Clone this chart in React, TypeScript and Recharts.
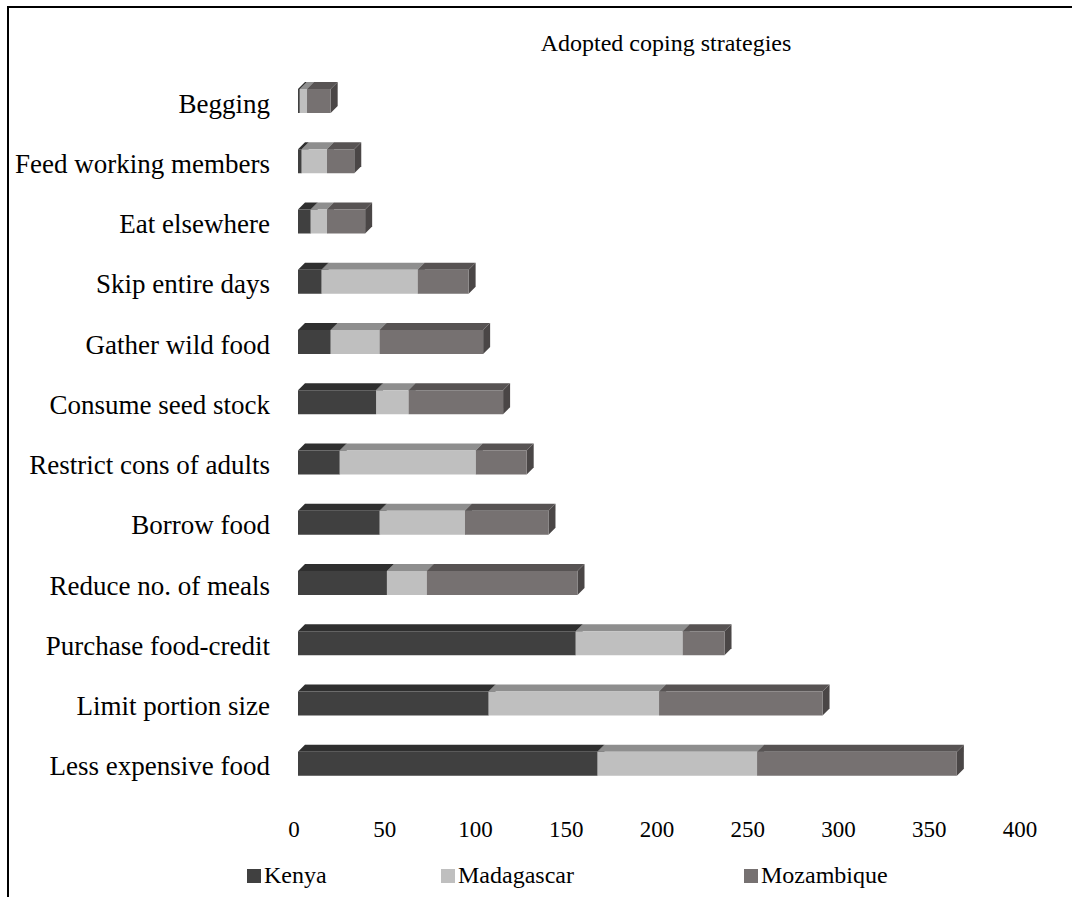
import React from "react";
import { BarChart, Bar, XAxis, YAxis, Legend } from "recharts";

const categories = [
  "Begging",
  "Feed working members",
  "Eat elsewhere",
  "Skip entire days",
  "Gather wild food",
  "Consume seed stock",
  "Restrict cons of adults",
  "Borrow food",
  "Reduce no. of meals",
  "Purchase food-credit",
  "Limit portion size",
  "Less expensive food",
];

const kenya = [1, 2, 7, 13, 18, 43, 23, 45, 49, 153, 105, 165];
const madagascar = [4, 14, 9, 53, 27, 18, 75, 47, 22, 59, 94, 88];
const mozambique = [13, 15, 21, 28, 57, 52, 28, 46, 83, 23, 90, 110];

const xTicks = [0, 50, 100, 150, 200, 250, 300, 350, 400];

const seriesNames = ["Kenya", "Madagascar", "Mozambique"];

const data = categories.map((category, i) => ({
  category,
  Kenya: kenya[i],
  Madagascar: madagascar[i],
  Mozambique: mozambique[i],
}));

const FONT = "'Liberation Serif', 'Times New Roman', serif";
const DEPTH = 7;

// front / top / side shades for each series
const shades: Record<string, { front: string; top: string; side: string }> = {
  Kenya: { front: "#404040", top: "#2f2f2f", side: "#262626" },
  Madagascar: { front: "#bfbfbf", top: "#8e8e8e", side: "#7a7a7a" },
  Mozambique: { front: "#767171", top: "#575353", side: "#4a4646" },
};

function make3DBar(name: string) {
  const c = shades[name];
  return (props: any) => {
    const { x, y, width, height } = props;
    if (!width || width <= 0) return <g />;
    const d = DEPTH;
    return (
      <g>
        <polygon
          points={`${x + width},${y} ${x + width + d},${y - d} ${x + width + d},${y + height - d} ${x + width},${y + height}`}
          fill={c.side}
        />
        <polygon
          points={`${x},${y} ${x + d},${y - d} ${x + width + d},${y - d} ${x + width},${y}`}
          fill={c.top}
        />
        <rect x={x} y={y} width={width} height={height} fill={c.front} />
      </g>
    );
  };
}

const legendLeft = [247, 441, 744];

function renderLegend() {
  return (
    <div style={{ position: "relative", height: 30, fontFamily: FONT }}>
      {seriesNames.map((name, i) => (
        <div
          key={name}
          style={{
            position: "absolute",
            left: legendLeft[i],
            top: 0,
            display: "flex",
            alignItems: "center",
            height: 30,
          }}
        >
          <span
            style={{
              display: "inline-block",
              width: 14,
              height: 14,
              background: shades[name].front,
              marginRight: 3,
              marginTop: 2,
            }}
          />
          <span
            style={{
              fontFamily: FONT,
              fontSize: 24,
              color: "#000",
              lineHeight: "30px",
            }}
          >
            {name}
          </span>
        </div>
      ))}
    </div>
  );
}

export default function App() {
  return (
    <div
      style={{
        position: "absolute",
        left: 0,
        top: 0,
        width: 1072,
        height: 897,
        background: "#fff",
        overflow: "hidden",
      }}
    >
      <div
        style={{
          position: "absolute",
          left: 7,
          top: 6,
          width: 1080,
          height: 900,
          borderTop: "2px solid #000",
          borderLeft: "2px solid #000",
        }}
      />
      <div
        style={{
          position: "absolute",
          left: 466,
          top: 30,
          width: 400,
          textAlign: "center",
          fontFamily: FONT,
          fontSize: 24,
          color: "#000",
        }}
      >
        Adopted coping strategies
      </div>
      <div style={{ position: "absolute", left: 0, top: 0 }}>
        <BarChart
          width={1072}
          height={897}
          data={data}
          layout="vertical"
          margin={{ top: 71, right: 48, bottom: 63, left: 0 }}
        >
          <XAxis
            type="number"
            domain={[0, 400]}
            ticks={xTicks}
            axisLine={false}
            tickLine={false}
            tickMargin={21}
            height={40}
            interval={0}
            tick={{ fill: "#000", fontSize: 23, fontFamily: FONT, dx: -4 }}
          />
          <YAxis
            type="category"
            dataKey="category"
            width={298}
            axisLine={false}
            tickLine={false}
            tickMargin={22}
            interval={0}
            tick={{ fill: "#000", fontSize: 27, fontFamily: FONT, dy: 2 }}
          />
          <Legend
            layout="horizontal"
            verticalAlign="middle"
            align="center"
            content={renderLegend}
            wrapperStyle={{ left: 0, top: 860, width: 1072, height: 30 }}
          />
          {seriesNames.map((name) => (
            <Bar
              key={name}
              dataKey={name}
              stackId="a"
              barSize={24}
              fill={shades[name].front}
              shape={make3DBar(name)}
              isAnimationActive={false}
            />
          ))}
        </BarChart>
      </div>
    </div>
  );
}
